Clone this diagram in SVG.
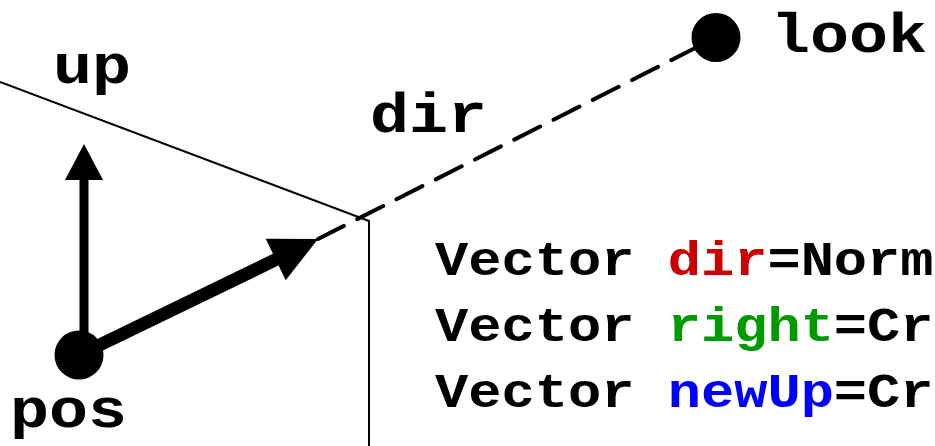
<svg xmlns="http://www.w3.org/2000/svg" width="935" height="446" viewBox="0 0 935 446">
<style>
.lbl{font-family:"Liberation Mono","Courier New",monospace;font-weight:bold;font-size:65px;fill:#000}
.code{font-family:"Liberation Mono","Courier New",monospace;font-weight:bold;font-size:55.4px;fill:#000}
.red{fill:#cc0000}.green{fill:#009900}.blue{fill:#0000ff}
</style>
<rect width="935" height="446" fill="#fff"/>
<g id="plane">
<polyline points="0,82 369,221 369,446" fill="none" stroke="#000" stroke-width="2"/>
</g>
<g id="connectors">
<line x1="318" y1="239" x2="716" y2="37.5" stroke="#000" stroke-width="4" stroke-dasharray="29 15" stroke-linecap="round"/>
<line x1="84" y1="355" x2="84" y2="178" stroke="#000" stroke-width="9"/>
<polygon points="84,144 65,180 103,180" fill="#000"/>
<line x1="79" y1="355" x2="277" y2="259" stroke="#000" stroke-width="13"/>
<polygon points="318,239 265.7,238.8 285.7,280.2" fill="#000"/>
</g>
<g id="pos">
<circle cx="79" cy="355" r="24.5" fill="#000"/>
<text class="lbl" transform="translate(10,427) scale(1,0.86)">pos</text>
</g>
<g id="look">
<circle cx="716" cy="37.5" r="24.5" fill="#000"/>
<text class="lbl" transform="translate(771,52) scale(1,0.86)">look</text>
</g>
<g id="up-label"><text class="lbl" transform="translate(53,83) scale(1,0.86)">up</text></g>
<g id="dir-label"><text class="lbl" transform="translate(370,132) scale(1,0.86)">dir</text></g>
<g id="code">
<text class="code" transform="translate(435,275) scale(1,0.86)">Vector <tspan class="red">dir</tspan>=Norm</text>
<text class="code" transform="translate(435,341) scale(1,0.86)">Vector <tspan class="green">right</tspan>=Cr</text>
<text class="code" transform="translate(435,407) scale(1,0.86)">Vector <tspan class="blue">newUp</tspan>=Cr</text>
</g>
</svg>
